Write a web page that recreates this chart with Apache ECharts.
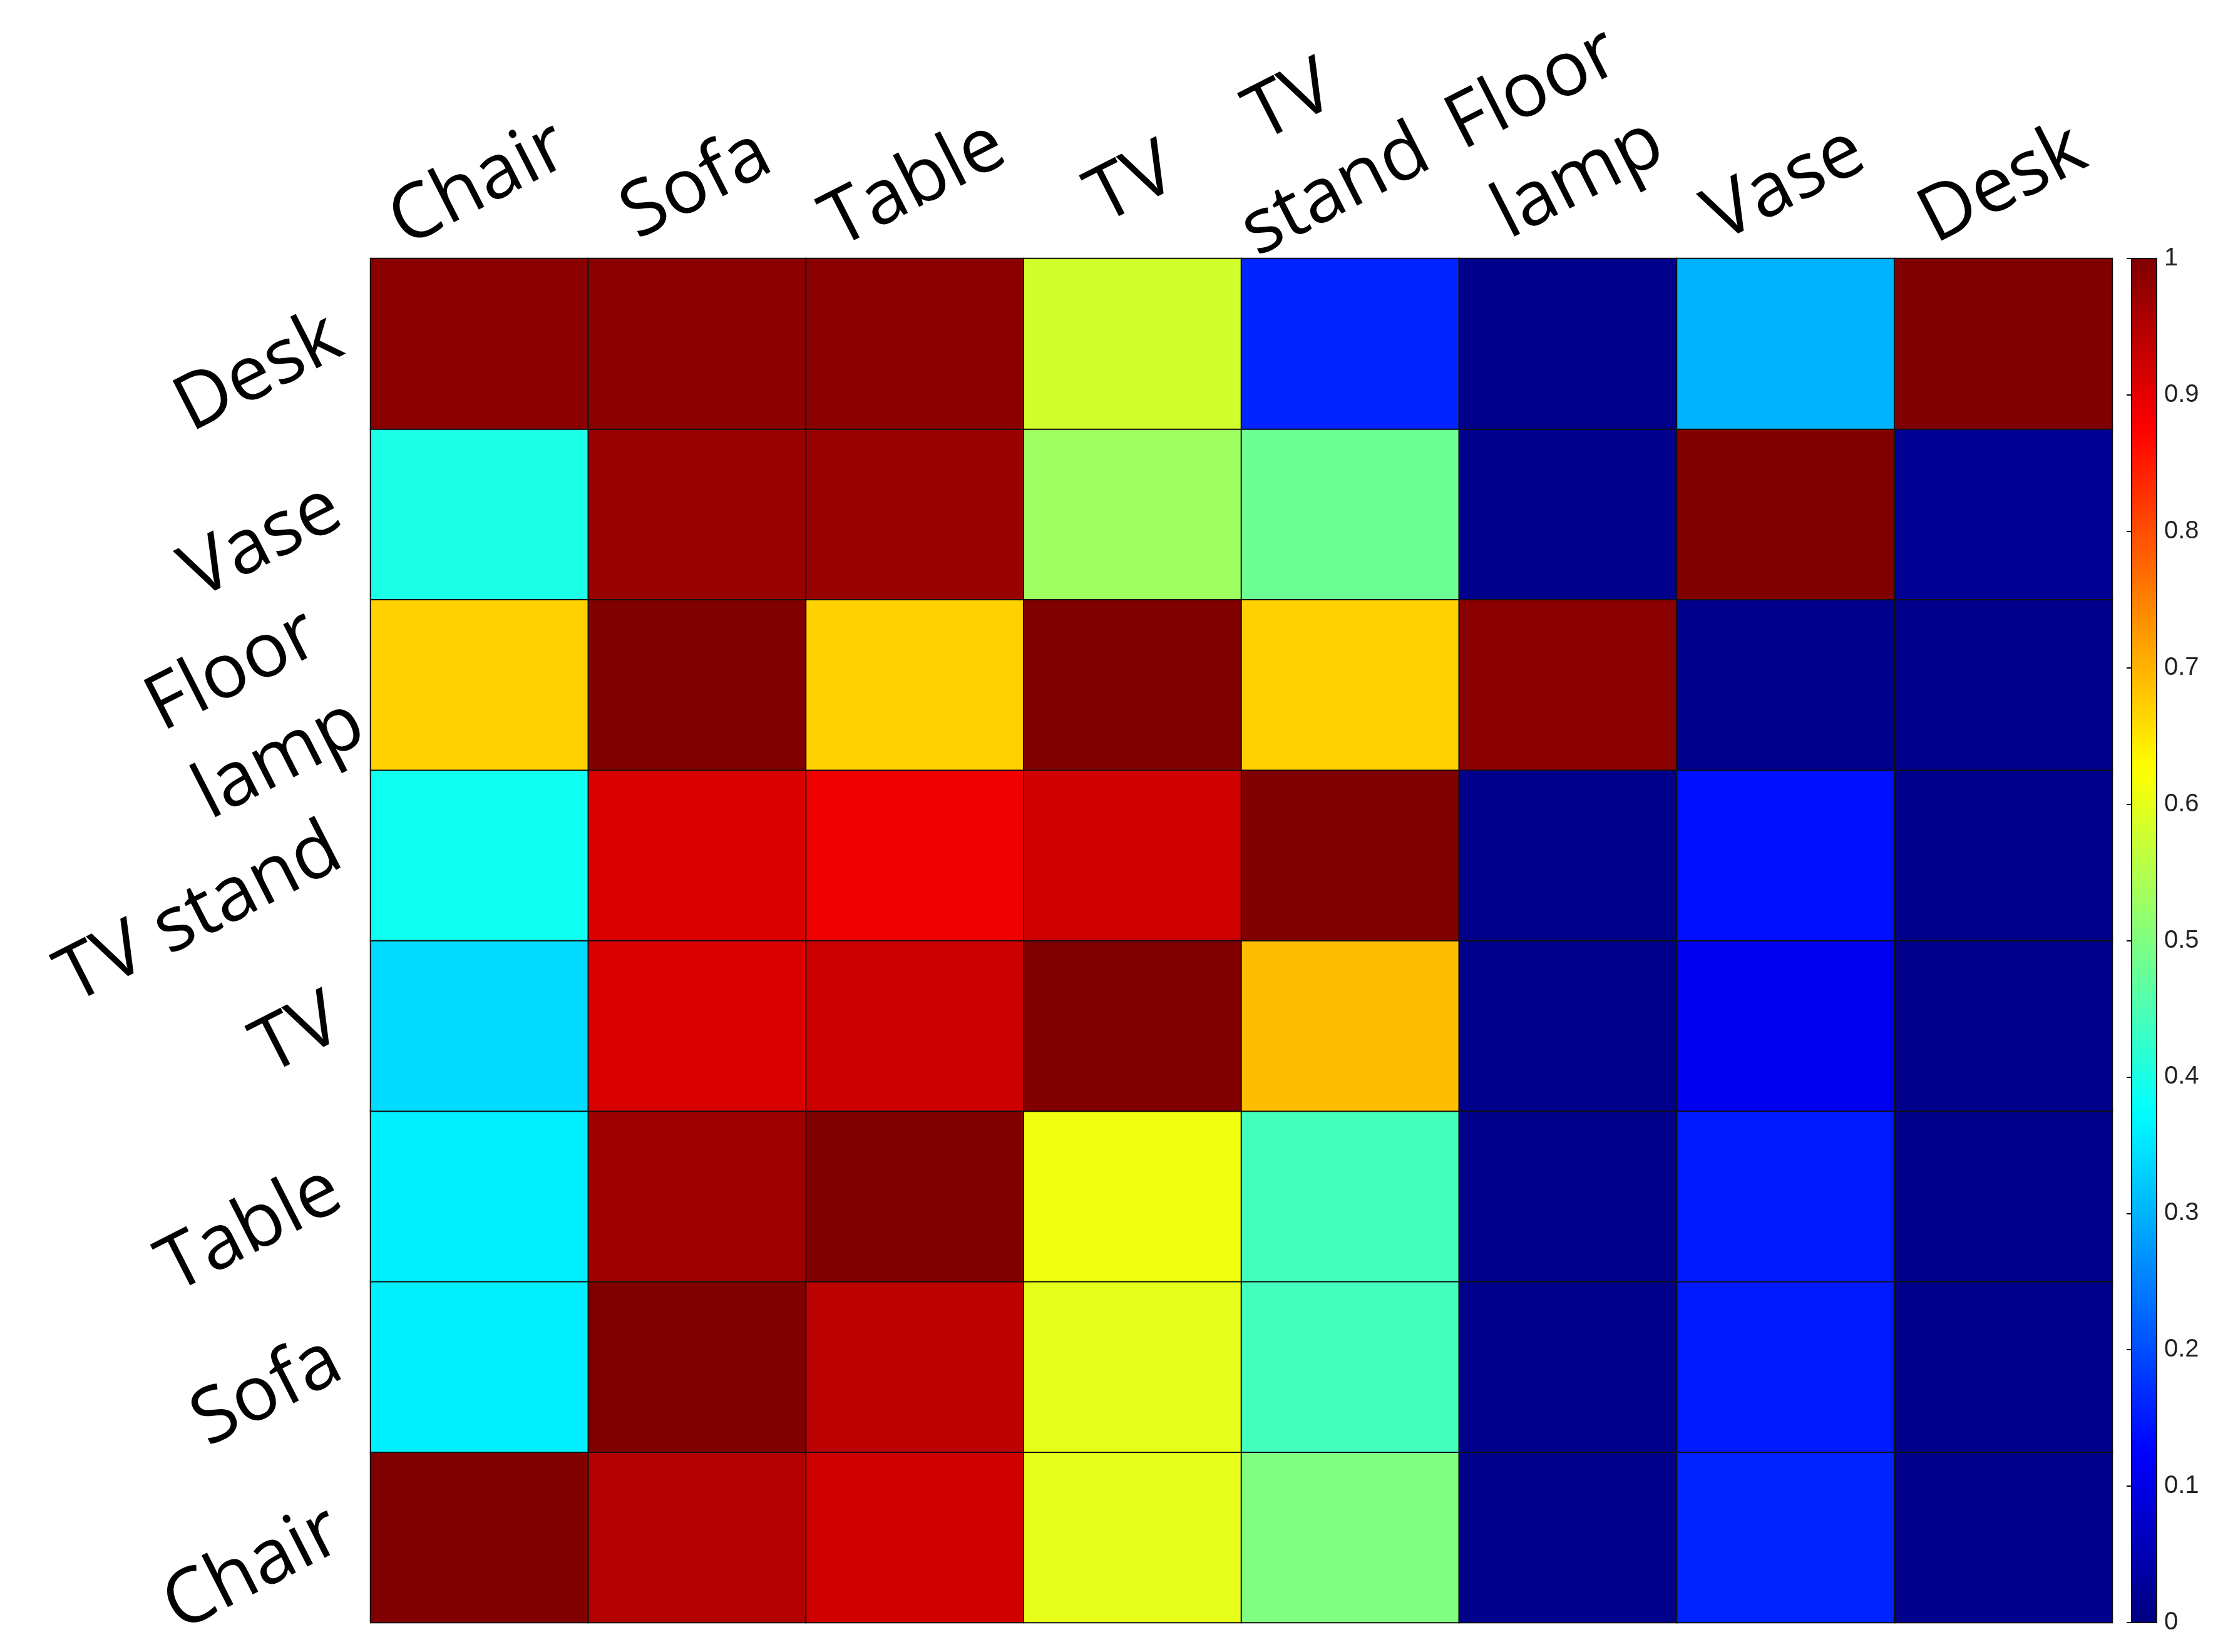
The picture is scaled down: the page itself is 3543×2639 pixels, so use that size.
<!DOCTYPE html>
<html>
<head>
<meta charset="utf-8">
<script src="https://cdn.jsdelivr.net/npm/echarts@6/dist/echarts.min.js"></script>
<style>
  html, body { margin: 0; padding: 0; background: #fff; }
  #chart { width: 3543px; height: 2639px; }
</style>
</head>
<body>
<div id="chart"></div>
<script>
// columns (left -> right)
const xCategories = ["Chair", "Sofa", "Table", "TV", "TV\nstand", "Floor\nlamp", "Vase", "Desk"];
// rows (bottom -> top)
const yCategories = ["Chair", "Sofa", "Table", "TV", "TV stand", "Floor\nlamp", "Vase", "Desk"];

// one array per row, values per column
const rowChair     = [1.00, 0.95, 0.92, 0.60, 0.50, 0.01, 0.16, 0.01];
const rowSofa      = [0.36, 1.00, 0.94, 0.60, 0.44, 0.01, 0.15, 0.01];
const rowTable     = [0.36, 0.97, 1.00, 0.61, 0.44, 0.01, 0.15, 0.01];
const rowTV        = [0.34, 0.91, 0.925, 1.00, 0.69, 0.01, 0.11, 0.01];
const rowTVStand   = [0.39, 0.91, 0.89, 0.92, 1.00, 0.01, 0.14, 0.01];
const rowFloorLamp = [0.67, 1.00, 0.67, 1.00, 0.67, 0.99, 0.01, 0.01];
const rowVase      = [0.40, 0.975, 0.975, 0.53, 0.48, 0.01, 1.00, 0.02];
const rowDesk      = [0.99, 0.99, 0.99, 0.58, 0.16, 0.01, 0.30, 1.00];

const rows = [rowChair, rowSofa, rowTable, rowTV, rowTVStand, rowFloorLamp, rowVase, rowDesk];

// jet colormap, evenly spaced stops 0..1
const jetColors = ["#000080", "#0000ff", "#0080ff", "#00ffff", "#80ff80", "#ffff00", "#ff8000", "#ff0000", "#800000"];

const heatData = [];
rows.forEach((row, yi) => {
  row.forEach((v, xi) => {
    heatData.push([xi, yi, v]);
  });
});

const labelFont = "'Open Sans', 'Noto Sans', sans-serif";
const labelText = { fontSize: 122, lineHeight: 160, fontFamily: labelFont, color: "#000" };

const chart = echarts.init(document.getElementById("chart"));
chart.setOption({
  backgroundColor: "#fff",
  animation: false,
  grid: [
    { left: 592, top: 413, width: 2782, height: 2179, outerBoundsMode: "none", containLabel: false },
    {
      left: 3405, top: 413, width: 40, height: 2179,
      outerBoundsMode: "none", containLabel: false,
      show: true, z: 5, backgroundColor: "transparent", borderColor: "#111", borderWidth: 2,
    },
  ],
  xAxis: [
    {
      gridIndex: 0,
      type: "category",
      position: "top",
      data: xCategories,
      axisLine: { show: false },
      axisTick: { show: false },
      splitLine: { show: false },
      axisLabel: {
        interval: 0,
        hideOverlap: false,
        rotate: -27,
        align: "center",
        verticalAlign: "bottom",
        padding: [0, 0, 0, 80],
        margin: 28,
        formatter: (v) => {
          const key = v === "TV\nstand" ? "l" : v === "Floor\nlamp" ? "r" : "n";
          return "{" + key + "|" + v + "}";
        },
        rich: {
          n: Object.assign({}, labelText),
          l: Object.assign({ padding: [0, 50, 0, 0] }, labelText),
          r: Object.assign({ padding: [0, 0, 0, 40] }, labelText),
        },
      },
    },
    { gridIndex: 1, type: "value", show: false, min: 0, max: 1 },
  ],
  yAxis: [
    {
      gridIndex: 0,
      type: "category",
      data: yCategories,
      axisLine: { show: false },
      axisTick: { show: false },
      splitLine: { show: false },
      axisLabel: {
        interval: 0,
        hideOverlap: false,
        rotate: 27,
        margin: 46,
        formatter: (v) => "{a|" + v + "}",
        rich: {
          a: Object.assign({ padding: [0, 0, 36, 0] }, labelText),
        },
      },
    },
    {
      gridIndex: 1,
      type: "value",
      position: "right",
      min: 0,
      max: 1,
      interval: 0.1,
      z: 6,
      axisLine: { show: false },
      splitLine: { show: false },
      axisTick: { show: true, inside: true, length: 8, lineStyle: { color: "#000", width: 2 } },
      axisLabel: {
        margin: 12,
        fontSize: 40,
        fontFamily: "'Liberation Sans Narrow', 'Liberation Sans', sans-serif",
        color: "#222",
      },
    },
  ],
  visualMap: {
    type: "continuous",
    min: 0,
    max: 1,
    calculable: false,
    seriesIndex: 0,
    left: 3405,
    top: 413,
    padding: 0,
    itemWidth: 40,
    itemHeight: 2179,
    inRange: { color: jetColors },
    textStyle: { color: "transparent" },
  },
  series: [
    {
      type: "heatmap",
      xAxisIndex: 0,
      yAxisIndex: 0,
      data: heatData,
      itemStyle: { borderColor: "#111", borderWidth: 2 },
      emphasis: { disabled: true },
    },
  ],
});
</script>
</body>
</html>
